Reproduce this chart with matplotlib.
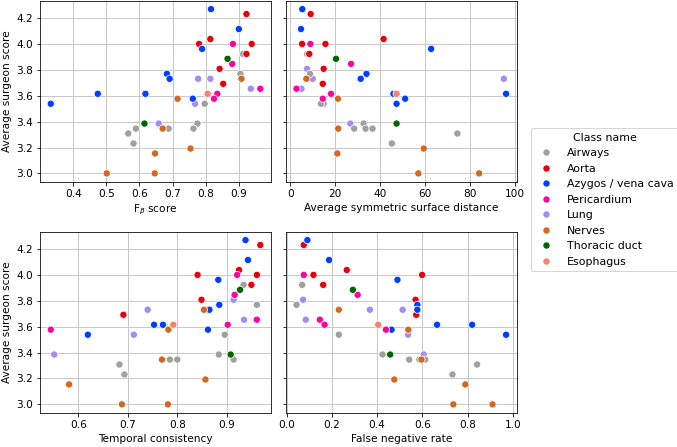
import matplotlib
matplotlib.use("Agg")
import matplotlib.pyplot as plt
from matplotlib.lines import Line2D
import pandas as pd

# legend order and colours
class_names = ["Airways", "Aorta", "Azygos / vena cava", "Pericardium",
               "Lung", "Nerves", "Thoracic duct", "Esophagus"]
class_colors = ["#a0a0a0", "#e8000b", "#023eff", "#f7079b",
                "#a38cf4", "#d2691e", "#006400", "#fa8072"]

# one entry per (model, class); listed in drawing order
cls = (["Lung"] * 6 + ["Airways"] * 9 + ["Aorta"] * 7 + ["Azygos / vena cava"] * 9
       + ["Pericardium"] * 5 + ["Nerves"] * 7 + ["Thoracic duct"] * 2 + ["Esophagus"])

score = [3.808, 3.731, 3.731, 3.654, 3.538, 3.385,
         3.923, 3.769, 3.538, 3.385, 3.346, 3.346, 3.346, 3.308, 3.231,
         4.231, 4.038, 4.000, 4.000, 3.923, 3.808, 3.692,
         4.269, 4.115, 3.962, 3.769, 3.731, 3.615, 3.615, 3.577, 3.538,
         4.000, 3.846, 3.654, 3.615, 3.577,
         3.731, 3.577, 3.346, 3.192, 3.154, 3.000, 3.000,
         3.885, 3.385,
         3.615]

fbeta = [0.842, 0.777, 0.814, 0.936, 0.768, 0.658,
         0.913, 0.905, 0.797, 0.775, 0.763, 0.688, 0.589, 0.566, 0.582,
         0.923, 0.814, 0.780, 0.939, 0.923, 0.842, 0.853,
         0.816, 0.900, 0.789, 0.683, 0.691, 0.474, 0.618, 0.761, 0.332,
         0.882, 0.880, 0.965, 0.835, 0.825,
         0.908, 0.715, 0.670, 0.754, 0.647, 0.501, 0.646,
         0.866, 0.615,
         0.806]

assd = [7.4, 9.9, 95.1, 4.9, 14.8, 26.7,
        7.5, 8.7, 13.6, 32.6, 28.4, 33.5, 36.6, 74.4, 45.2,
        9.0, 41.5, 5.2, 15.6, 8.4, 14.8, 14.4,
        5.3, 4.7, 62.7, 33.9, 31.3, 45.9, 96.1, 51.1, 47.3,
        8.9, 27.0, 2.7, 18.1, 14.4,
        7.1, 21.2, 21.3, 59.4, 20.9, 57.0, 84.1,
        20.3, 47.3,
        47.3]

temporal = [0.914, 0.740, 0.860, 0.935, 0.712, 0.551,
            0.934, 0.961, 0.896, 0.884, 0.785, 0.800, 0.914, 0.683, 0.693,
            0.968, 0.925, 0.841, 0.961, 0.950, 0.849, 0.691,
            0.938, 0.943, 0.883, 0.885, 0.865, 0.753, 0.771, 0.862, 0.619,
            0.921, 0.916, 0.961, 0.902, 0.544,
            0.854, 0.782, 0.769, 0.857, 0.581, 0.688, 0.781,
            0.927, 0.908,
            0.792]

fnr = [0.073, 0.368, 0.513, 0.085, 0.537, 0.606,
       0.069, 0.044, 0.231, 0.424, 0.542, 0.587, 0.613, 0.842, 0.733,
       0.076, 0.266, 0.119, 0.599, 0.162, 0.570, 0.573,
       0.092, 0.188, 0.490, 0.578, 0.578, 0.665, 0.820, 0.464, 0.970,
       0.076, 0.314, 0.147, 0.168, 0.439,
       0.231, 0.538, 0.596, 0.476, 0.790, 0.737, 0.910,
       0.293, 0.458,
       0.405]

df = pd.DataFrame({"cls": cls, "score": score, "fbeta": fbeta, "assd": assd,
                   "temporal": temporal, "fnr": fnr})
color_map = dict(zip(class_names, class_colors))
df["color"] = df["cls"].map(color_map)

metrics = [("fbeta", r"F$_\beta$ score"),
           ("assd", "Average symmetric surface distance"),
           ("temporal", "Temporal consistency"),
           ("fnr", "False negative rate")]

fig, axes = plt.subplots(2, 2, sharey=True, figsize=(677 / 72, 447 / 72), dpi=72)
fig.subplots_adjust(left=0.0595, right=0.763, top=0.998, bottom=0.077,
                    wspace=0.066, hspace=0.278)

for ax, (col, label) in zip(axes.flat, metrics):
    ax.scatter(df[col], df["score"], c=df["color"], s=52,
               edgecolors="white", linewidths=0.75, zorder=3)
    ax.grid(True, color="#c8c8c8", linewidth=1.0)
    ax.set_axisbelow(True)
    ax.set_xlabel(label, fontsize=10.5)
    ax.tick_params(labelsize=10.5)

axes[0, 0].set_ylabel("Average surgeon score", fontsize=10.5)
axes[1, 0].set_ylabel("Average surgeon score", fontsize=10.5)
axes[0, 0].set_yticks([3.0, 3.2, 3.4, 3.6, 3.8, 4.0, 4.2])

handles = [Line2D([], [], marker="o", linestyle="", markersize=7.2,
                  markerfacecolor=c, markeredgecolor="white", markeredgewidth=0.75)
           for c in class_colors]
fig.legend(handles, class_names, title="Class name", loc="center left",
           bbox_to_anchor=(531 / 677, 0.553), borderaxespad=0, fontsize=11,
           title_fontsize=11, labelspacing=0.5, handletextpad=0.9)

fig.savefig("out.png", dpi=72)
